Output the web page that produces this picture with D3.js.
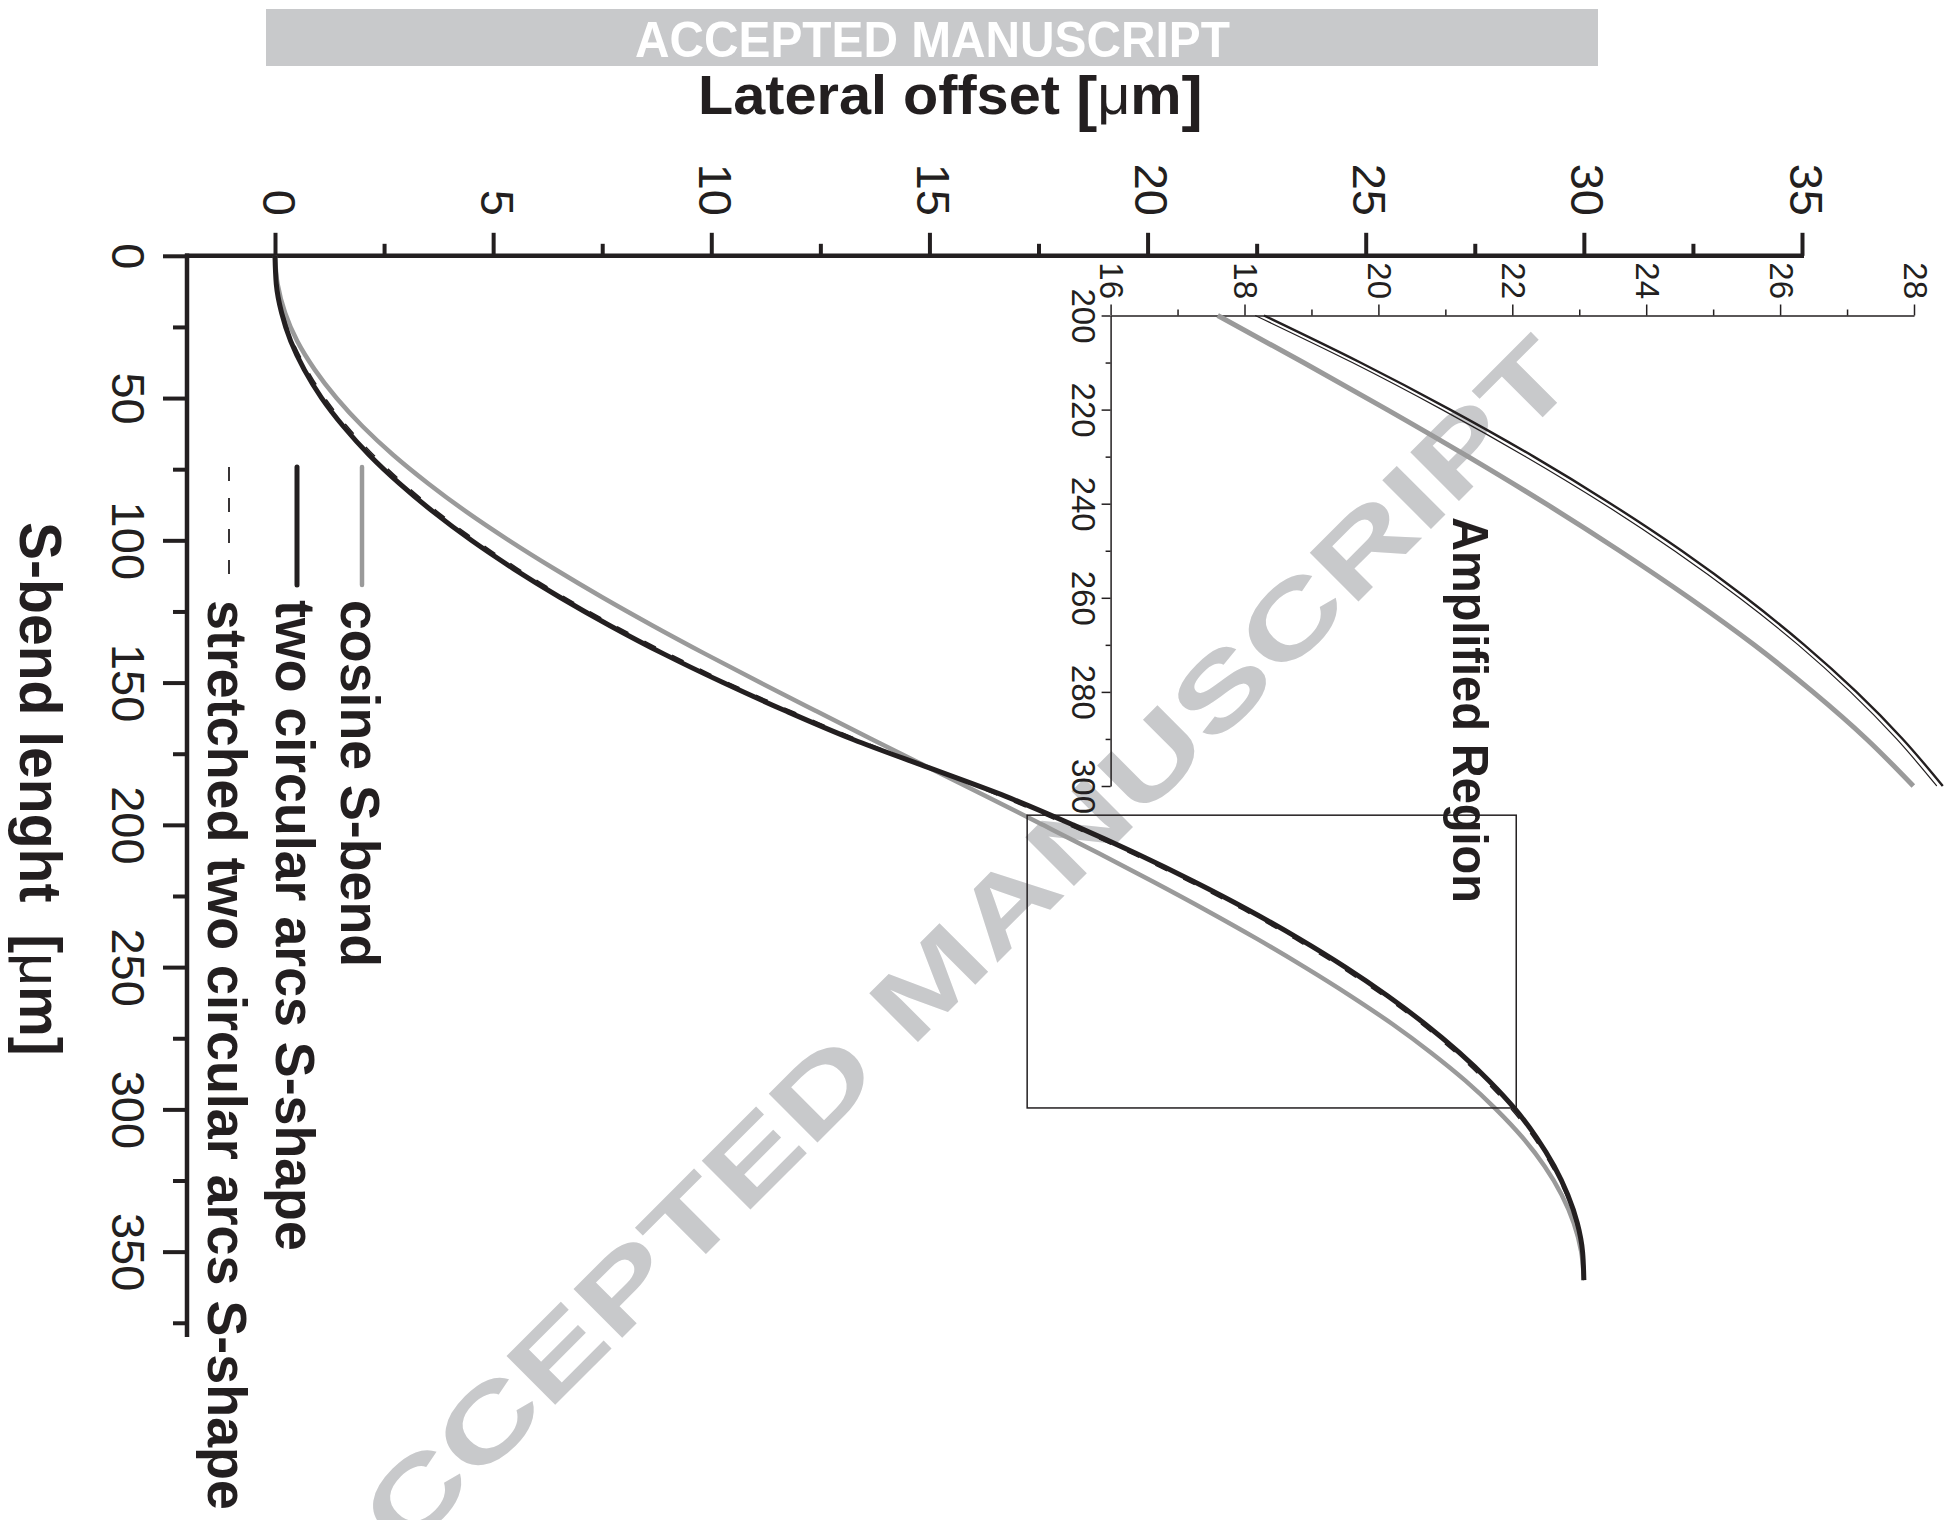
<!DOCTYPE html>
<html>
<head>
<meta charset="utf-8">
<script src="https://cdn.jsdelivr.net/npm/d3@7"></script>
<style>
  body { margin: 0; background: #fff; }
  svg { display: block; }
  text { font-family: "Liberation Sans", Arial, Helvetica, sans-serif; }
</style>
</head>
<body>
<svg id="c" width="1952" height="1520"></svg>
<script>
// ---------------- DATA ----------------
const sbendLength = [0,10,20,30,40,50,60,70,80,90,100,110,120,130,140,150,160,170,180,
                     190,200,210,220,230,240,250,260,270,280,290,300,310,320,330,340,350,360];
const cosineOffset = [0,0.06,0.23,0.51,0.91,1.41,2.01,2.71,3.51,4.39,5.36,6.40,7.50,8.66,9.87,11.12,12.40,13.69,15.00,
                      16.31,17.60,18.88,20.13,21.34,22.50,23.60,24.64,25.61,26.49,27.29,27.99,28.60,29.10,29.49,29.77,29.94,30.00];
const twoArcsOffset = [0,0.03,0.15,0.36,0.67,1.07,1.57,2.16,2.85,3.63,4.50,5.47,6.53,7.68,8.92,10.27,11.71,13.25,15.00,
                       16.75,18.29,19.73,21.07,22.32,23.47,24.53,25.49,26.36,27.14,27.83,28.43,28.92,29.32,29.63,29.85,29.97,30.00];
const stretchedOffset = [0,0.05,0.18,0.41,0.74,1.15,1.66,2.26,2.95,3.73,4.61,5.58,6.64,7.80,9.05,10.39,11.84,13.37,15.00,
                         16.63,18.16,19.61,20.95,22.20,23.36,24.42,25.39,26.27,27.05,27.74,28.34,28.85,29.26,29.59,29.82,29.95,30.00];
const seriesNames = ["cosine S-bend", "two circular arcs S-shape", "stretched two circular arcs S-shape"];

const xDomain = [0, 35];
const yDomain = [0, 380];
const xTicksMajor = [0,5,10,15,20,25,30,35];
const xTicksMinor = [2.5,7.5,12.5,17.5,22.5,27.5,32.5];
const yTicksMajor = [0,50,100,150,200,250,300,350];
const yTicksMinor = [25,75,125,175,225,275,325,375];

const insetXDomain = [16, 28];
const insetYDomain = [200, 300];
const insetXTicksMajor = [16,18,20,22,24,26,28];
const insetXTicksMinor = [17,19,21,23,25,27];
const insetYTicksMajor = [200,220,240,260,280,300];
const insetYTicksMinor = [210,230,250,270,290];
const zoomBox = [17.24, 28.45, 196.6, 299.5]; // x0, x1, z0, z1

// ---------------- DRAWING ----------------
const svg = d3.select("#c");
const INK = "#231f20", GRAY = "#9a9a9a", WM = "#c8c9cb";

function fitText(sel, target, tx, ty, rot) {
  const w = sel.node().getBBox().width;
  sel.attr("transform", `translate(${tx},${ty}) rotate(${rot}) scale(${target / w},1)`);
}

// watermark (behind everything)
svg.append("text")
  .text("ACCEPTED MANUSCRIPT")
  .attr("font-size", 100).attr("font-weight", "bold").attr("fill", WM)
  .attr("transform", "translate(331,1629) rotate(-45) scale(1.42,1)");

// banner
svg.append("rect").attr("x", 266).attr("y", 9).attr("width", 1332).attr("height", 57).attr("fill", WM);
const bt = svg.append("text").text("ACCEPTED MANUSCRIPT")
  .attr("font-size", 50).attr("font-weight", "bold").attr("fill", "#fff");
fitText(bt, 595, 635, 57, 0);

// scales
const x = d3.scaleLinear().domain(xDomain).range([275, 1802]);
const y = d3.scaleLinear().domain(yDomain).range([255.8, 1337]);
const xi = d3.scaleLinear().domain(insetXDomain).range([1110.6, 1914]);
const yi = d3.scaleLinear().domain(insetYDomain).range([315.5, 786]);
const AXIS_X = 187; // y-axis position

function styleAxis(g, sw) {
  g.attr("font-family", null).attr("font-size", null);
  g.selectAll("line").attr("stroke", INK).attr("stroke-width", sw);
  g.selectAll(".domain").attr("stroke", INK).attr("stroke-width", sw);
}

// ---- main top axis ----
const gx = svg.append("g").attr("transform", `translate(0,${y(0)})`);
gx.call(d3.axisTop(x).tickValues(xTicksMajor).tickSize(23).tickSizeOuter(0).tickFormat(d3.format("d")));
gx.select(".domain").remove();
styleAxis(gx, 4);
gx.selectAll("text")
  .attr("x", null).attr("y", null).attr("dy", null)
  .attr("fill", INK).attr("font-size", 47).attr("text-anchor", "end")
  .attr("transform", `translate(-13,${216 - y(0)}) rotate(90)`);
const gxm = svg.append("g").attr("transform", `translate(0,${y(0)})`);
gxm.call(d3.axisTop(x).tickValues(xTicksMinor).tickSize(12).tickSizeOuter(0).tickFormat(""));
gxm.select(".domain").remove();
styleAxis(gxm, 4);
svg.append("line").attr("x1", AXIS_X - 2).attr("x2", x(35) + 2).attr("y1", y(0)).attr("y2", y(0))
  .attr("stroke", INK).attr("stroke-width", 4.5);

// ---- main left axis ----
const gy = svg.append("g").attr("transform", `translate(${AXIS_X},0)`);
gy.call(d3.axisLeft(y).tickValues(yTicksMajor).tickSize(24).tickSizeOuter(0).tickFormat(d3.format("d")));
gy.select(".domain").remove();
styleAxis(gy, 4);
gy.selectAll("text")
  .attr("x", null).attr("y", null).attr("dy", null)
  .attr("fill", INK).attr("font-size", 47).attr("text-anchor", "middle")
  .attr("transform", `translate(${112 - AXIS_X},0) rotate(90)`);
const gym = svg.append("g").attr("transform", `translate(${AXIS_X},0)`);
gym.call(d3.axisLeft(y).tickValues(yTicksMinor).tickSize(14).tickSizeOuter(0).tickFormat(""));
gym.select(".domain").remove();
styleAxis(gym, 4);
svg.append("line").attr("x1", AXIS_X).attr("x2", AXIS_X).attr("y1", y(0) - 2.25).attr("y2", y(380))
  .attr("stroke", INK).attr("stroke-width", 4.5);

// ---- titles ----
const tt = svg.append("text").attr("font-size", 56).attr("font-weight", "bold").attr("fill", INK)
  .attr("style", "white-space:pre");
tt.append("tspan").text("Lateral offset ");
tt.append("tspan").attr("font-size", 62).attr("dy", 5).text("[");
tt.append("tspan").attr("font-weight", "normal").attr("dy", -5).text("μ");
tt.append("tspan").text("m");
tt.append("tspan").attr("font-size", 62).attr("dy", 5).text("]");
fitText(tt, 505, 698, 114, 0);

const yt = svg.append("text").attr("font-size", 60).attr("font-weight", "bold").attr("fill", INK)
  .attr("style", "white-space:pre");
yt.append("tspan").text("S-bend lenght  ");
yt.append("tspan").text("[");
yt.append("tspan").attr("font-weight", "normal").text("μ");
yt.append("tspan").text("m");
yt.append("tspan").text("]");
fitText(yt, 534, 20, 522, 90);

// ---- main curves ----
const lineMain = d3.line().x(d => x(d[1])).y(d => y(d[0])).curve(d3.curveMonotoneY);
const cosData = sbendLength.map((z, i) => [z, cosineOffset[i]]);
const arcData = sbendLength.map((z, i) => [z, twoArcsOffset[i]]);
const strData = sbendLength.map((z, i) => [z, stretchedOffset[i]]);

svg.append("path").datum(cosData).attr("d", lineMain).attr("fill", "none")
  .attr("stroke", GRAY).attr("stroke-width", 4.5);
svg.append("path").datum(strData).attr("d", lineMain).attr("fill", "none")
  .attr("stroke", INK).attr("stroke-width", 1.5).attr("stroke-dasharray", "13,18");
svg.append("path").datum(arcData).attr("d", lineMain).attr("fill", "none")
  .attr("stroke", INK).attr("stroke-width", 5);

// zoom rectangle
svg.append("rect")
  .attr("x", x(zoomBox[0])).attr("y", y(zoomBox[2]))
  .attr("width", x(zoomBox[1]) - x(zoomBox[0])).attr("height", y(zoomBox[3]) - y(zoomBox[2]))
  .attr("fill", "none").attr("stroke", INK).attr("stroke-width", 1.5);

// ---- legend ----
const legendLineX = [362, 297, 229];
const legendLen = [367, 651, 910];
const legendStyles = [
  { stroke: GRAY, w: 4.5, dash: null },
  { stroke: INK, w: 5, dash: null },
  { stroke: INK, w: 1.8, dash: "14,17" }
];
seriesNames.forEach((name, i) => {
  const lx = legendLineX[i];
  const s = legendStyles[i];
  svg.append("line").attr("x1", lx).attr("x2", lx).attr("y1", 467).attr("y2", 585)
    .attr("stroke", s.stroke).attr("stroke-width", s.w)
    .attr("stroke-linecap", s.dash ? "butt" : "round")
    .attr("stroke-dasharray", s.dash);
  const t = svg.append("text").text(name)
    .attr("font-size", 56).attr("font-weight", "bold").attr("fill", INK);
  fitText(t, legendLen[i], lx - 21, 600, 90);
});

// ---- inset ----
const gxi = svg.append("g").attr("transform", `translate(0,${yi(200)})`);
gxi.call(d3.axisTop(xi).tickValues(insetXTicksMajor).tickSize(11).tickSizeOuter(0).tickFormat(d3.format("d")));
styleAxis(gxi, 1.5);
gxi.selectAll("text")
  .attr("x", null).attr("y", null).attr("dy", null)
  .attr("fill", INK).attr("font-size", 33).attr("text-anchor", "end")
  .attr("transform", `translate(-11,${299 - yi(200)}) rotate(90)`);
const gxim = svg.append("g").attr("transform", `translate(0,${yi(200)})`);
gxim.call(d3.axisTop(xi).tickValues(insetXTicksMinor).tickSize(6).tickSizeOuter(0).tickFormat(""));
gxim.select(".domain").remove();
styleAxis(gxim, 1.5);

const gyi = svg.append("g").attr("transform", `translate(${xi(16)},0)`);
gyi.call(d3.axisLeft(yi).tickValues(insetYTicksMajor).tickSize(9).tickSizeOuter(0).tickFormat(d3.format("d")));
styleAxis(gyi, 1.5);
gyi.selectAll("text")
  .attr("x", null).attr("y", null).attr("dy", null)
  .attr("fill", INK).attr("font-size", 33).attr("text-anchor", "middle")
  .attr("transform", `translate(${1072 - xi(16)},0) rotate(90)`);
const gyim = svg.append("g").attr("transform", `translate(${xi(16)},0)`);
gyim.call(d3.axisLeft(yi).tickValues(insetYTicksMinor).tickSize(5).tickSizeOuter(0).tickFormat(""));
gyim.select(".domain").remove();
styleAxis(gyim, 1.5);

const inRange = d => d[0] >= insetYDomain[0] && d[0] <= insetYDomain[1];
const lineInset = d3.line().x(d => xi(d[1])).y(d => yi(d[0])).curve(d3.curveMonotoneY);
svg.append("path").datum(cosData.filter(inRange)).attr("d", lineInset).attr("fill", "none")
  .attr("stroke", GRAY).attr("stroke-width", 5);
svg.append("path").datum(strData.filter(inRange)).attr("d", lineInset).attr("fill", "none")
  .attr("stroke", INK).attr("stroke-width", 1.2);
svg.append("path").datum(arcData.filter(inRange)).attr("d", lineInset).attr("fill", "none")
  .attr("stroke", INK).attr("stroke-width", 2.4);

const ar = svg.append("text").text("Amplified Region")
  .attr("font-size", 50).attr("font-weight", "bold").attr("fill", INK);
fitText(ar, 386, 1453, 517, 90);
</script>
</body>
</html>
